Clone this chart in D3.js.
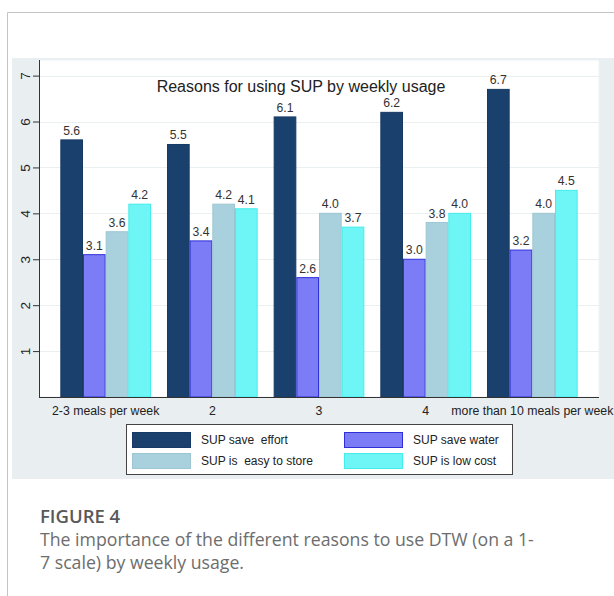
<!DOCTYPE html>
<html>
<head>
<meta charset="utf-8">
<script src="https://cdn.jsdelivr.net/npm/d3@7"></script>
<style>
  html, body { margin: 0; padding: 0; background: #fff; }
  svg { display: block; }
  svg text { white-space: pre; }
</style>
</head>
<body>
<svg id="chart" width="614" height="596"></svg>
<script>
// Weekly usage groups
const categories = ["2-3 meals per week", "2", "3", "4", "more than 10 meals per week"];
// Reasons (series)
const seriesNames = ["SUP save  effort", "SUP save water", "SUP is  easy to store", "SUP is low cost"];
// Mean importance scores (1-7 scale), one array per reason
const saveEffort = [5.6, 5.5, 6.1, 6.2, 6.7];
const saveWater = [3.1, 3.4, 2.6, 3.0, 3.2];
const easyToStore = [3.6, 4.2, 4.0, 3.8, 4.0];
const lowCost = [4.2, 4.1, 3.7, 4.0, 4.5];
const yTicks = [1, 2, 3, 4, 5, 6, 7];

const seriesValues = [saveEffort, saveWater, easyToStore, lowCost];
const fills = ["#1a416d", "#7b7cf6", "#a9d1dd", "#6ef6f6"];
const strokes = ["#163a63", "#2f30d8", "#9cc6d3", "#45ecec"];

const svg = d3.select("#chart");
const font = "'Liberation Sans', Arial, sans-serif";
const captionFont = "'Open Sans', 'Noto Sans', sans-serif";

// card frame
svg.append("line").attr("x1", 7.5).attr("x2", 614).attr("y1", 12.5).attr("y2", 12.5)
  .attr("stroke", "#c4c4c4");
svg.append("line").attr("x1", 7.5).attr("x2", 7.5).attr("y1", 12.5).attr("y2", 596)
  .attr("stroke", "#c4c4c4");

// graph region
svg.append("rect").attr("x", 12).attr("y", 58).attr("width", 602).attr("height", 421)
  .attr("fill", "#e9eef1");

// plot region
const plot = { left: 39, right: 599, top: 60, bottom: 397 };
svg.append("rect").attr("x", plot.left).attr("y", plot.top)
  .attr("width", plot.right - plot.left).attr("height", plot.bottom - plot.top)
  .attr("fill", "#ffffff").attr("stroke", "#eef2f5");

const x0 = d3.scaleBand().domain(categories).range([plot.left, plot.right])
  .paddingInner(0.15).paddingOuter(0.2);
const x1 = d3.scaleBand().domain(d3.range(seriesNames.length)).range([0, x0.bandwidth()]);
const y = d3.scaleLinear().domain([0, 7.34]).range([plot.bottom, plot.top]);

// gridlines
svg.append("g").selectAll("line").data(yTicks).join("line")
  .attr("x1", plot.left).attr("x2", plot.right)
  .attr("y1", d => Math.round(y(d)) + 0.5).attr("y2", d => Math.round(y(d)) + 0.5)
  .attr("stroke", "#eaeff2").attr("stroke-width", 1);

// chart title
svg.append("text").attr("x", 301).attr("y", 92).attr("text-anchor", "middle")
  .attr("font-family", font).attr("font-size", 16).attr("fill", "#222")
  .text("Reasons for using SUP by weekly usage");

// bars
const groups = svg.append("g").selectAll("g").data(categories).join("g")
  .attr("transform", d => `translate(${x0(d)},0)`);

groups.selectAll("rect")
  .data((c, i) => seriesValues.map((vals, s) => ({ s, v: vals[i] })))
  .join("rect")
  .attr("x", d => x1(d.s) + 0.5)
  .attr("y", d => y(d.v))
  .attr("width", x1.bandwidth() - 1)
  .attr("height", d => y(0) - y(d.v))
  .attr("fill", d => fills[d.s])
  .attr("stroke", d => strokes[d.s])
  .attr("stroke-width", 1);

groups.selectAll("text")
  .data((c, i) => seriesValues.map((vals, s) => ({ s, v: vals[i] })))
  .join("text")
  .attr("x", d => x1(d.s) + x1.bandwidth() / 2)
  .attr("y", d => y(d.v) - 5)
  .attr("text-anchor", "middle")
  .attr("font-family", font).attr("font-size", 12.2).attr("fill", "#333")
  .text(d => d3.format(".1f")(d.v));

// y axis
const yAxis = svg.append("g").attr("transform", `translate(${plot.left},0)`)
  .call(d3.axisLeft(y).tickValues(yTicks).tickSize(6).tickSizeOuter(0).tickFormat(d3.format("d")));
yAxis.select(".domain").attr("stroke", "#333").attr("d", `M0.5,${plot.top}V${plot.bottom}`);
yAxis.selectAll(".tick line").attr("stroke", "#333");
yAxis.selectAll(".tick text")
  .attr("font-family", font).attr("font-size", 13.5).attr("fill", "#222")
  .attr("x", null).attr("dy", null)
  .attr("text-anchor", "middle")
  .attr("transform", "translate(-14,0) rotate(-90)")
  .attr("y", 4.5);

// x axis
const xAxis = svg.append("g").attr("transform", `translate(0,${plot.bottom})`)
  .call(d3.axisBottom(x0).tickSize(0).tickPadding(9));
xAxis.select(".domain").attr("stroke", "#333").attr("d", `M${plot.left},0.5H${plot.right}`);
xAxis.selectAll(".tick text")
  .attr("font-family", font).attr("font-size", 12.3).attr("fill", "#222");

// legend
const legend = svg.append("g");
legend.append("rect").attr("x", 126.5).attr("y", 424.5).attr("width", 386).attr("height", 50)
  .attr("fill", "#fff").attr("stroke", "#444");
const legendPos = [
  { x: 132, y: 432 }, { x: 344, y: 432 },
  { x: 132, y: 453 }, { x: 344, y: 453 }
];
seriesNames.forEach((name, i) => {
  const p = legendPos[i];
  legend.append("rect").attr("x", p.x + 0.5).attr("y", p.y + 0.5).attr("width", 58).attr("height", 15)
    .attr("fill", fills[i]).attr("stroke", strokes[i]);
  legend.append("text").attr("x", p.x + 69).attr("y", p.y + 12)
    .attr("font-family", font).attr("font-size", 12).attr("fill", "#222")
    .text(name);
});

// figure caption
svg.append("text").attr("x", 40).attr("y", 523)
  .attr("font-family", captionFont).attr("font-size", 18.5)
  .attr("font-weight", 600).attr("fill", "#595959").text("FIGURE 4");
const caption = ["The importance of the different reasons to use DTW (on a 1-", "7 scale) by weekly usage."];
svg.append("g").selectAll("text").data(caption).join("text")
  .attr("x", 40).attr("y", (d, i) => 546 + i * 23)
  .attr("font-family", captionFont).attr("font-size", 17.7)
  .attr("font-weight", 400).attr("fill", "#6d6d6d").text(d => d);
</script>
</body>
</html>
